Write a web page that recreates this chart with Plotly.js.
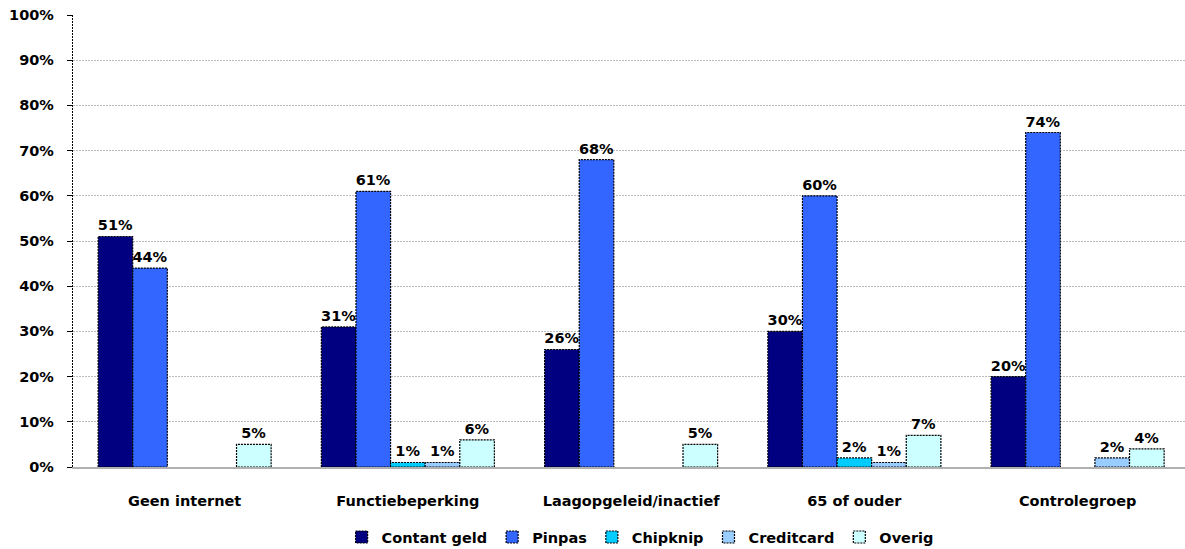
<!DOCTYPE html>
<html><head><meta charset="utf-8">
<script src="https://cdn.plot.ly/plotly-3.0.1.min.js"></script>
<style>
body{margin:0;background:#fff}
#chart .bars .point path{stroke-dasharray:2 1}
#chart .legendpoints path{stroke-dasharray:2 1}
#chart path.ylines-above{stroke-dasharray:2 1}
</style>
</head><body>
<div id="chart" style="width:1185px;height:549px"></div>
<script>
const categories = ["Geen internet","Functiebeperking","Laagopgeleid/inactief","65 of ouder","Controlegroep"];
const contantGeld = [51,31,26,30,20];
const pinpas = [44,61,68,60,74];
const chipknip = [null,1,null,2,null];
const creditcard = [null,1,null,1,2];
const overig = [5,6,5,7,4];
const seriesNames = ["Contant geld","Pinpas","Chipknip","Creditcard","Overig"];
const seriesColors = ["#000080","#3366FF","#00CCFF","#99CCFF","#CCFFFF"];
const yTicks = [0,10,20,30,40,50,60,70,80,90,100];

const allSeries = [contantGeld,pinpas,chipknip,creditcard,overig];
const fam = "DejaVu Sans, sans-serif";
const bold = {family:fam,size:14.5,color:"#000",weight:"bold"};
const traces = allSeries.map((vals,i)=>({
  type:"bar",x:categories,y:vals,name:seriesNames[i],
  marker:{color:seriesColors[i],line:{color:"#000",width:1.2}},
  text:vals.map(v=>v==null?"":v+"%"),
  textposition:"outside",cliponaxis:false,constraintext:"none",
  textfont:bold,
  hoverinfo:"none"
}));

const layout = {
  width:1185,height:549,
  margin:{l:73,r:0,t:15,b:82,autoexpand:false},
  paper_bgcolor:"#fff",plot_bgcolor:"#fff",
  font:bold,
  barmode:"group",bargap:0.225,bargroupgap:0,
  showlegend:true,
  legend:{orientation:"h",x:0.51,xanchor:"center",y:-0.155,yanchor:"middle",
    font:bold,itemwidth:30,tracegroupgap:0},
  xaxis:{showgrid:false,ticks:"",showline:true,linecolor:"#b0b0b0",linewidth:1.5,
    range:[-0.5,4.481],automargin:false,
    tickfont:bold,ticklabelstandoff:20,fixedrange:true},
  yaxis:{range:[0,100],tickmode:"array",tickvals:yTicks,ticktext:yTicks.map(v=>v+"%"),
    showgrid:true,gridcolor:"#bdbdbd",griddash:"2px,1px",gridwidth:1,
    showline:true,linecolor:"#000",linewidth:1.2,ticks:"outside",ticklen:5,tickcolor:"#000",
    ticklabelstandoff:10,zeroline:false,automargin:false,
    tickfont:bold,fixedrange:true}
};
Plotly.newPlot("chart",traces,layout,{displayModeBar:false,staticPlot:true});
</script>
</body></html>
